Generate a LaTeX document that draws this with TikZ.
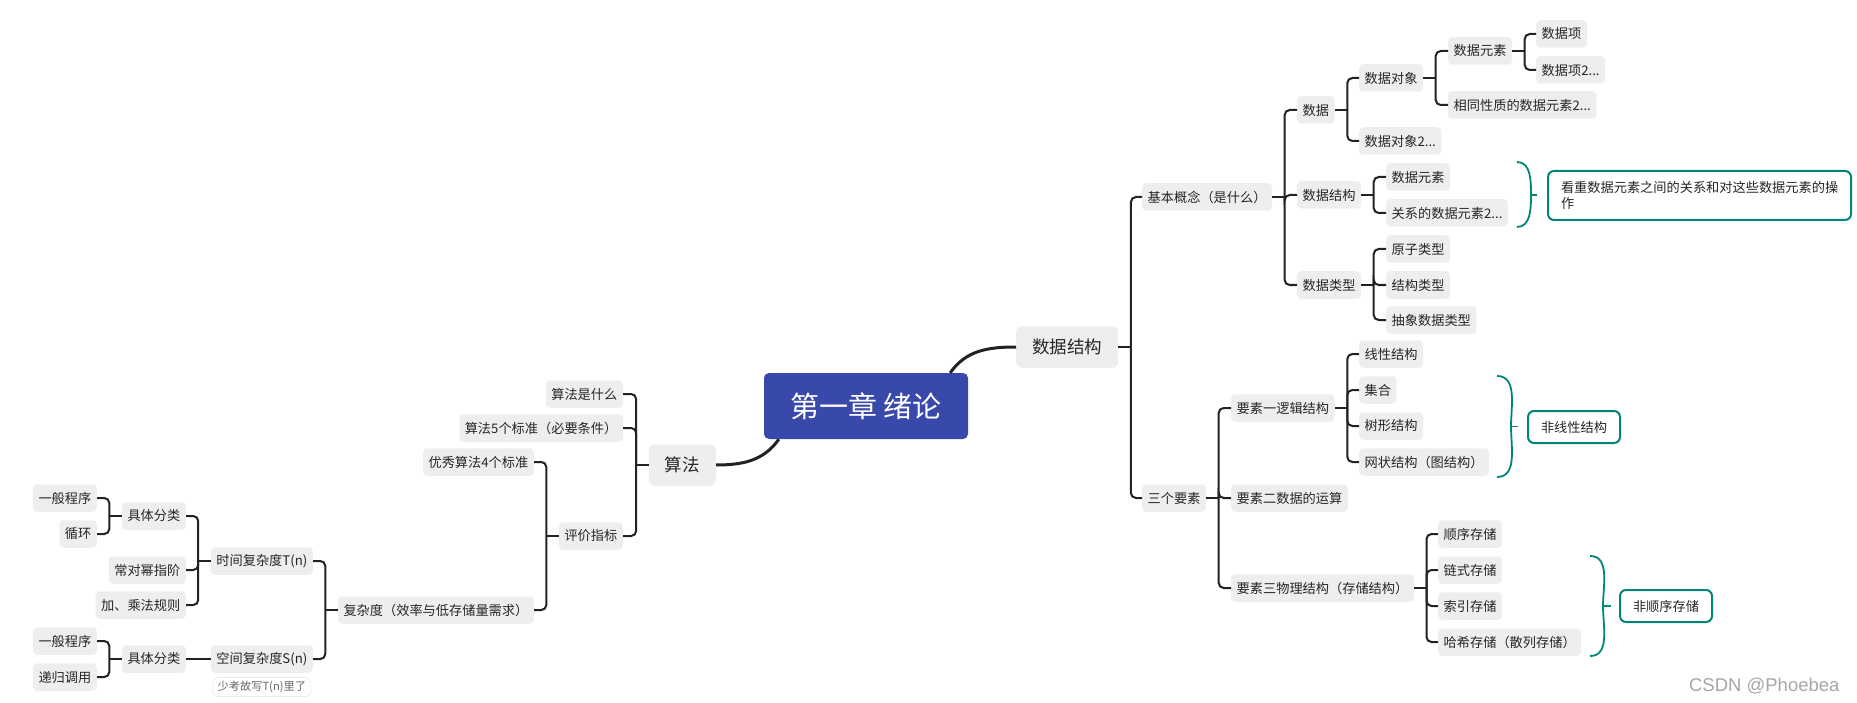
\documentclass[tikz,border=0pt]{standalone}
\usepackage{fontspec}
\setmainfont{Noto Sans CJK SC}
\newfontfamily\wmfont{Liberation Sans}
\usepackage{tikz}
\usetikzlibrary{calc, positioning}
\usepackage{xcolor}
\definecolor{topicgrey}{RGB}{238,238,238}
\definecolor{rootblue}{RGB}{57,72,171}
\definecolor{sumteal}{RGB}{0,133,119}
\definecolor{linkdark}{RGB}{34,34,34}
\tikzset{
    topic/.style={fill=topicgrey, rounded corners=4pt, inner xsep=5.5pt, inner ysep=0pt, minimum height=27.5pt, text=black!85, font=\fontsize{13.2}{15}\selectfont},
    major/.style={topic, rounded corners=6pt, inner xsep=16pt, minimum height=41.5pt, font=\fontsize{17.5}{20}\selectfont},
    rootbox/.style={fill=rootblue, rounded corners=5pt, minimum width=204pt, minimum height=66pt, text=white, font=\fontsize{29}{32}\selectfont},
    notebox/.style={draw=sumteal, line width=2pt, fill=white, rounded corners=6pt, inner xsep=13pt, minimum height=32pt, text=black!85, font=\fontsize{13.2}{16.5}\selectfont},
    remark/.style={draw=black!12, fill=white, rounded corners=6pt, inner xsep=5pt, inner ysep=0pt, minimum height=19pt, text=black!60, font=\fontsize{11.2}{13}\selectfont},
    branch/.style={draw=linkdark, line width=2pt, rounded corners=5pt},
    trunk/.style={draw=linkdark, line width=3pt},
    brace/.style={draw=sumteal, line width=1.8pt}
}
\begin{document}
\begin{tikzpicture}[x=1pt,y=-1pt]
    \useasboundingbox (0,0) rectangle (1857,703);
    % Root
    \node[rootbox] (root) at (866,406) {第一章 绪论};

    % Right half: data structures
    \node[major, anchor=west] (ds)    at (1016,347) {数据结构};
    \node[topic, anchor=west] (jbgn)  at (1142,197) {基本概念（是什么）};
    \node[topic, anchor=west] (sj)    at (1297,110) {数据};
    \node[topic, anchor=west] (sjdx)  at (1359,78)  {数据对象};
    \node[topic, anchor=west] (sjdx2) at (1359,141) {数据对象2...};
    \node[topic, anchor=west] (sjys)  at (1448,51)  {数据元素};
    \node[topic, anchor=west] (txxz)  at (1448,105) {相同性质的数据元素2...};
    \node[topic, anchor=west] (sjx)   at (1536,34)  {数据项};
    \node[topic, anchor=west] (sjx2)  at (1536,70)  {数据项2...};
    \node[topic, anchor=west] (sjjg)  at (1297,195) {数据结构};
    \node[topic, anchor=west] (jgys)  at (1386,177) {数据元素};
    \node[topic, anchor=west] (gxys)  at (1386,213) {关系的数据元素2...};
    \node[topic, anchor=west] (sjlx)  at (1297,285) {数据类型};
    \node[topic, anchor=west] (yzlx)  at (1386,249) {原子类型};
    \node[topic, anchor=west] (jglx)  at (1386,285) {结构类型};
    \node[topic, anchor=west] (cxlx)  at (1386,320) {抽象数据类型};
    \node[topic, anchor=west] (sgys)  at (1142,498) {三个要素};
    \node[topic, anchor=west] (ys1)   at (1231,408) {要素一逻辑结构};
    \node[topic, anchor=west] (ys2)   at (1231,498) {要素二数据的运算};
    \node[topic, anchor=west] (ys3)   at (1231,588) {要素三物理结构（存储结构）};
    \node[topic, anchor=west] (xxjg)  at (1359,354) {线性结构};
    \node[topic, anchor=west] (jh)    at (1359,390) {集合};
    \node[topic, anchor=west] (sxjg)  at (1359,426) {树形结构};
    \node[topic, anchor=west] (wzjg)  at (1359,462) {网状结构（图结构）};
    \node[topic, anchor=west] (sxcc)  at (1438,534) {顺序存储};
    \node[topic, anchor=west] (lscc)  at (1438,570) {链式存储};
    \node[topic, anchor=west] (sycc)  at (1438,606) {索引存储};
    \node[topic, anchor=west] (hxcc)  at (1438,642) {哈希存储（散列存储）};

    % Summary notes
    \node[notebox, anchor=west, text width=277pt, align=left, inner ysep=8pt, minimum height=49pt] (kzgx) at (1547,195.5) {看重数据元素之间的关系和对这些数据元素的操\\作};
    \node[notebox, anchor=west] (fxxjg) at (1527,427) {非线性结构};
    \node[notebox, anchor=west] (fsxcc) at (1619,606) {非顺序存储};
    \coordinate (kzb)  at (1531,195);
    \coordinate (fxxb) at (1511,426.5);
    \coordinate (fsxb) at (1603,606);

    % Left half: algorithms
    \node[major, anchor=east] (sf)    at (716,465) {算法};
    \node[topic, anchor=east] (sfsm)  at (623,394) {算法是什么};
    \node[topic, anchor=east] (sfbz)  at (623,428) {算法5个标准（必要条件）};
    \node[topic, anchor=east] (pjzb)  at (623,536) {评价指标};
    \node[topic, anchor=east] (yxsf)  at (534,462) {优秀算法4个标准};
    \node[topic, anchor=east] (fzd)   at (534,610) {复杂度（效率与低存储量需求）};
    \node[topic, anchor=east] (sjfz)  at (313,561) {时间复杂度T(n)};
    \node[topic, anchor=east] (kjfz)  at (313,659) {空间复杂度S(n)};
    \node[topic, anchor=east] (jtfl1) at (186,516) {具体分类};
    \node[topic, anchor=east] (cdmz)  at (186,570) {常对幂指阶};
    \node[topic, anchor=east] (jcfg)  at (186,605) {加、乘法规则};
    \node[topic, anchor=east] (ybcx1) at (97,498)  {一般程序};
    \node[topic, anchor=east] (xh)    at (97,534)  {循环};
    \node[topic, anchor=east] (jtfl2) at (186,659) {具体分类};
    \node[topic, anchor=east] (ybcx2) at (97,641)  {一般程序};
    \node[topic, anchor=east] (dgdy)  at (97,677)  {递归调用};
    \node[remark, below=4.5pt of kjfz] (skgx) {少考故写T(n)里了};

    % Watermark
    \node[anchor=east, text=black!35, font=\wmfont\fontsize{18.5}{20}\selectfont] (csdn) at (1843,686) {CSDN @Phoebea};

    % Main branches
    \draw[trunk] ([xshift=-18pt]root.north east) to[out=55,in=180] (ds.west);
    \draw[trunk] ([xshift=15pt]root.south west) to[out=-125,in=0] (sf.east);

    % Right branches (stub into the spine, then one elbow per child)
    \draw[branch] (ds.east) -- ++(12.5,0);
    \draw[branch] ([xshift=12.5pt]ds.east) |- (jbgn.west);
    \draw[branch] ([xshift=12.5pt]ds.east) |- (sgys.west);
    \draw[branch] (jbgn.east) -- ++(12.5,0);
    \draw[branch] ([xshift=12.5pt]jbgn.east) |- (sj.west);
    \draw[branch] ([xshift=12.5pt]jbgn.east) |- (sjjg.west);
    \draw[branch] ([xshift=12.5pt]jbgn.east) |- (sjlx.west);
    \draw[branch] (sj.east) -- ++(12.5,0);
    \draw[branch] ([xshift=12.5pt]sj.east) |- (sjdx.west);
    \draw[branch] ([xshift=12.5pt]sj.east) |- (sjdx2.west);
    \draw[branch] (sjdx.east) -- ++(12.5,0);
    \draw[branch] ([xshift=12.5pt]sjdx.east) |- (sjys.west);
    \draw[branch] ([xshift=12.5pt]sjdx.east) |- (txxz.west);
    \draw[branch] (sjys.east) -- ++(12.5,0);
    \draw[branch] ([xshift=12.5pt]sjys.east) |- (sjx.west);
    \draw[branch] ([xshift=12.5pt]sjys.east) |- (sjx2.west);
    \draw[branch] (sjjg.east) -- ++(12.5,0);
    \draw[branch] ([xshift=12.5pt]sjjg.east) |- (jgys.west);
    \draw[branch] ([xshift=12.5pt]sjjg.east) |- (gxys.west);
    \draw[branch] (sjlx.east) -- ++(12.5,0);
    \draw[branch] ([xshift=12.5pt]sjlx.east) |- (yzlx.west);
    \draw[branch] ([xshift=12.5pt]sjlx.east) |- (jglx.west);
    \draw[branch] ([xshift=12.5pt]sjlx.east) |- (cxlx.west);
    \draw[branch] (sgys.east) -- ++(12.5,0);
    \draw[branch] ([xshift=12.5pt]sgys.east) |- (ys1.west);
    \draw[branch] ([xshift=12.5pt]sgys.east) |- (ys2.west);
    \draw[branch] ([xshift=12.5pt]sgys.east) |- (ys3.west);
    \draw[branch] (ys1.east) -- ++(12.5,0);
    \draw[branch] ([xshift=12.5pt]ys1.east) |- (xxjg.west);
    \draw[branch] ([xshift=12.5pt]ys1.east) |- (jh.west);
    \draw[branch] ([xshift=12.5pt]ys1.east) |- (sxjg.west);
    \draw[branch] ([xshift=12.5pt]ys1.east) |- (wzjg.west);
    \draw[branch] (ys3.east) -- ++(12.5,0);
    \draw[branch] ([xshift=12.5pt]ys3.east) |- (sxcc.west);
    \draw[branch] ([xshift=12.5pt]ys3.east) |- (lscc.west);
    \draw[branch] ([xshift=12.5pt]ys3.east) |- (sycc.west);
    \draw[branch] ([xshift=12.5pt]ys3.east) |- (hxcc.west);

    % Summary braces
    \draw[brace] (1517,162) to[out=0,in=90] (kzb) to[out=-90,in=0] (1517,227);
    \draw[brace] (kzb) -- ++(6,0);
    \draw[brace] (1497,376) to[out=0,in=90] (fxxb) to[out=-90,in=0] (1497,477);
    \draw[brace] (fxxb) -- ++(7,0);
    \draw[brace] (1590,556) to[out=0,in=90] (fsxb) to[out=-90,in=0] (1590,656);
    \draw[brace] (fsxb) -- ++(8,0);

    % Left branches
    \draw[branch] (sf.west) -- ++(-12.5,0);
    \draw[branch] ([xshift=-12.5pt]sf.west) |- (sfsm.east);
    \draw[branch] ([xshift=-12.5pt]sf.west) |- (sfbz.east);
    \draw[branch] ([xshift=-12.5pt]sf.west) |- (pjzb.east);
    \draw[branch] (pjzb.west) -- ++(-12.5,0);
    \draw[branch] ([xshift=-12.5pt]pjzb.west) |- (yxsf.east);
    \draw[branch] ([xshift=-12.5pt]pjzb.west) |- (fzd.east);
    \draw[branch] (fzd.west) -- ++(-12.5,0);
    \draw[branch] ([xshift=-12.5pt]fzd.west) |- (sjfz.east);
    \draw[branch] ([xshift=-12.5pt]fzd.west) |- (kjfz.east);
    \draw[branch] (sjfz.west) -- ++(-12.5,0);
    \draw[branch] ([xshift=-12.5pt]sjfz.west) |- (jtfl1.east);
    \draw[branch] ([xshift=-12.5pt]sjfz.west) |- (cdmz.east);
    \draw[branch] ([xshift=-12.5pt]sjfz.west) |- (jcfg.east);
    \draw[branch] (jtfl1.west) -- ++(-12.5,0);
    \draw[branch] ([xshift=-12.5pt]jtfl1.west) |- (ybcx1.east);
    \draw[branch] ([xshift=-12.5pt]jtfl1.west) |- (xh.east);
    \draw[branch] (kjfz.west) -- (jtfl2.east);
    \draw[branch] (jtfl2.west) -- ++(-12.5,0);
    \draw[branch] ([xshift=-12.5pt]jtfl2.west) |- (ybcx2.east);
    \draw[branch] ([xshift=-12.5pt]jtfl2.west) |- (dgdy.east);
\end{tikzpicture}
\end{document}
